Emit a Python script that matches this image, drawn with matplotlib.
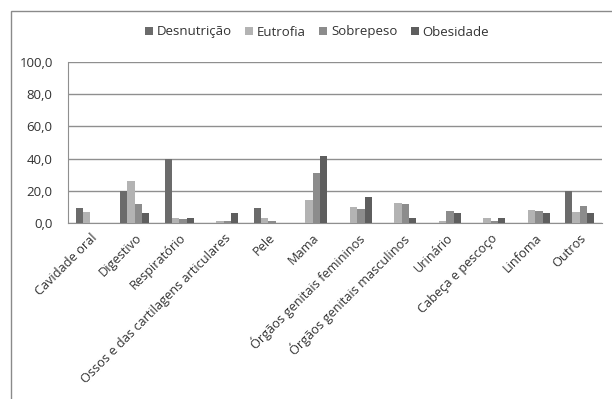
import matplotlib.pyplot as plt
import numpy as np

categories = ['Cavidade oral', 'Digestivo', 'Respiratório',
              'Ossos e das cartilagens articulares', 'Pele', 'Mama',
              'Órgãos genitais femininos', 'Órgãos genitais masculinos',
              'Urinário', 'Cabeça e pescoço', 'Linfoma', 'Outros']
series_names = ['Desnutrição', 'Eutrofia', 'Sobrepeso', 'Obesidade']
desnutricao = [9.5, 20.0, 39.8, 0, 9.5, 0, 0, 0, 0, 0, 0, 20.0]
eutrofia = [7.0, 26.2, 3.3, 1.2, 3.3, 14.0, 10.1, 12.6, 1.2, 3.3, 8.2, 6.8]
sobrepeso = [0, 12.0, 2.5, 1.2, 1.2, 31.1, 8.9, 12.0, 7.6, 1.2, 7.6, 10.7]
obesidade = [0, 6.4, 3.3, 6.4, 0, 41.9, 15.9, 3.3, 6.2, 3.3, 6.2, 6.2]
yticks = [0, 20, 40, 60, 80, 100]

colors = ['#6b6b6b', '#b3b3b3', '#8c8c8c', '#5e5e5e']

plt.rcParams['font.family'] = ['Open Sans', 'DejaVu Sans']

fig = plt.figure(figsize=(6.12, 3.99), dpi=100)
# outer chart border
fig.patches.append(plt.Rectangle((11 / 612, -0.01), 1.1, 1 - 11 / 399 + 0.01,
                                 transform=fig.transFigure, fill=False,
                                 edgecolor='#8a8a8a', linewidth=1))
ax = fig.add_axes([68 / 612, 1 - 223 / 399, (602 - 68) / 612, (223 - 62) / 399])

x = np.arange(len(categories))
w = 0.165
data = [desnutricao, eutrofia, sobrepeso, obesidade]
for i, (vals, name) in enumerate(zip(data, series_names)):
    ax.bar(x + (i - 1.5) * w, vals, width=w, color=colors[i], label=name, zorder=3)

ax.set_ylim(0, 100)
ax.set_xlim(-0.5, len(categories) - 0.5)
ax.set_yticks(yticks)
ax.set_yticklabels([f'{v:.1f}'.replace('.', ',') for v in yticks], fontsize=9.5, color='#333333')
ax.yaxis.grid(True, color='#8f8f8f', linewidth=1, zorder=0)
ax.set_xticks(x)
ax.set_xticklabels(categories, rotation=45, ha='right', rotation_mode='anchor',
                   fontsize=9.2, color='#333333')
ax.tick_params(axis='x', length=0, pad=6)
ax.tick_params(axis='y', length=0, pad=11)
for s in ['top', 'right']:
    ax.spines[s].set_visible(False)
ax.spines['left'].set_color('#8f8f8f')
ax.spines['bottom'].set_color('#8f8f8f')

fig.legend(loc='center', bbox_to_anchor=(317 / 612, 1 - 32 / 399), ncol=4, frameon=False,
           fontsize=9.5, handlelength=0.6, handleheight=0.6, handletextpad=0.3,
           columnspacing=1.0, labelcolor='#333333')

fig.savefig('out.png', dpi=100)
